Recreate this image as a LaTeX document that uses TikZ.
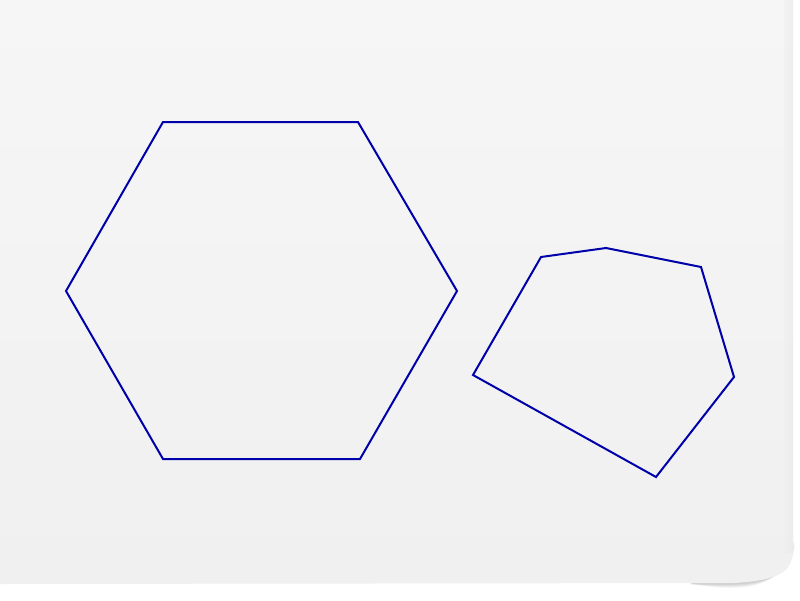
\documentclass[tikz,border=0pt]{standalone}
\begin{document}
\begin{tikzpicture}[x=1pt,y=-1pt,
  shape line/.style={draw={rgb,255:red,0;green,0;blue,170}, line width=2pt, line join=miter}]
\useasboundingbox (0,0) rectangle (800,600);
\fill[white] (0,0) rectangle (800,600);
% soft shadow under the curl
\foreach \o in {1,2,...,8}{
  \fill[black,opacity=0.025] (690,584) .. controls (740,584+\o) and (780,586+\o*0.8) .. (792+\o*0.4,560-\o*2) -- (792,540) -- cycle;
}
% paper
\shade[top color={rgb,255:red,246;green,246;blue,246}, bottom color={rgb,255:red,240;green,240;blue,240}]
  (0,0) -- (793,0) -- (793,552) .. controls (791,572) and (780,580) .. (735,583) -- (0,584) -- cycle;
% right edge soft shading
\shade[left color={rgb,255:red,240;green,240;blue,240}, right color={rgb,255:red,232;green,232;blue,232}, opacity=0.6] (784,0) rectangle (793,552);
% hexagon
\coordinate (h1) at (163,122);
\coordinate (h2) at (358,122);
\coordinate (h3) at (457,291);
\coordinate (h4) at (360,459);
\coordinate (h5) at (163,459);
\coordinate (h6) at (66,291);
\draw[shape line] (h1) -- (h2) -- (h3) -- (h4) -- (h5) -- (h6) -- cycle;
% irregular hexagon
\coordinate (p1) at (541,257);
\coordinate (p2) at (606,248);
\coordinate (p3) at (701,267);
\coordinate (p4) at (734,377);
\coordinate (p5) at (656,477);
\coordinate (p6) at (473,375);
\draw[shape line] (p1) -- (p2) -- (p3) -- (p4) -- (p5) -- (p6) -- cycle;
\end{tikzpicture}
\end{document}
